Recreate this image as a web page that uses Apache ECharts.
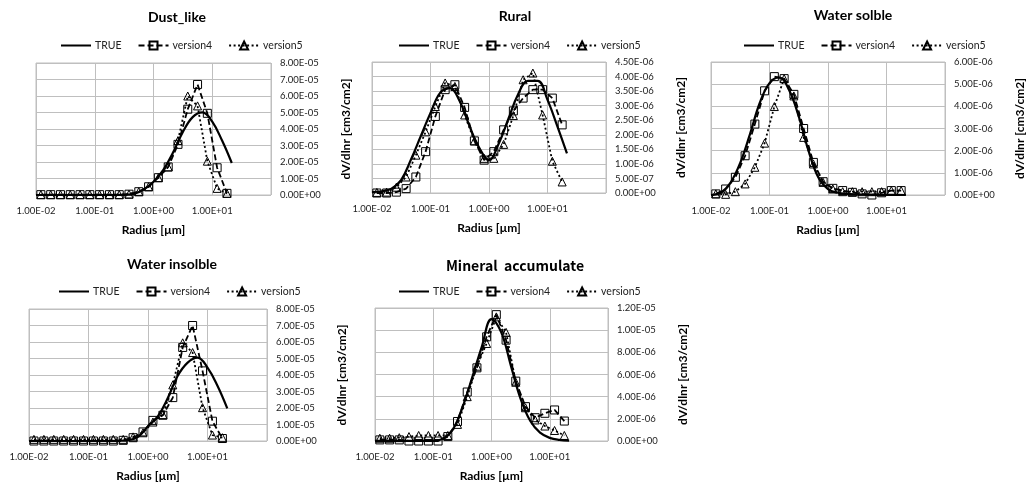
<!DOCTYPE html>
<html>
<head>
<meta charset="utf-8">
<title>dV/dlnr</title>
<script src="https://cdn.jsdelivr.net/npm/echarts@6/dist/echarts.min.js"></script>
<style>
html, body { margin: 0; padding: 0; background: #fff; }
#main { width: 1030px; height: 488px; }
</style>
</head>
<body>
<div id="main"></div>
<script>
// radius [um] : TRUE curve and retrieved bins
var rTrue = [0.01, 0.0147, 0.0215, 0.0316, 0.0464, 0.0681, 0.1, 0.147, 0.215, 0.316, 0.464,
    0.681, 1, 1.47, 2.15, 3.16, 4.64, 6.81, 10, 14.7, 21.5];
var rBin = [0.0121, 0.0178, 0.0261, 0.0383, 0.0562, 0.0825, 0.121, 0.178, 0.261, 0.383,
    0.562, 0.825, 1.21, 1.78, 2.61, 3.83, 5.62, 8.25, 12.1, 17.8];

// Dust_like  (x 1e-5)
var dustTrue = [0, 0, 0, 0, 0, 0, 0, 0, 0, 0.01, 0.07, 0.33, 0.8, 1.52, 2.57, 3.82, 4.72, 5.01, 4.45, 3.3, 1.94];
var dustV4 = [0.02, 0.02, 0.02, 0.02, 0.02, 0.02, 0.02, 0.02, 0.02, 0.05, 0.2, 0.5, 1.05, 1.7, 3.07, 5.2, 6.7, 4.95, 1.65, 0.1];
var dustV5 = [0.02, 0.02, 0.02, 0.02, 0.02, 0.02, 0.02, 0.02, 0.02, 0.05, 0.2, 0.5, 1.05, 1.7, 3.3, 6.0, 5.4, 2.05, 0.4, 0.1];

// Rural  (x 1e-6)
var ruralTrue = [0.03, 0.06, 0.15, 0.45, 1.15, 1.95, 2.75, 3.45, 3.6, 3.15, 2.3, 1.55, 1.13, 1.7, 2.55, 3.4, 3.85, 3.85, 3.2, 2.3, 1.36];
var ruralV4 = [0, 0, 0.03, 0.15, 0.55, 1.42, 2.63, 3.55, 3.72, 2.94, 1.79, 1.13, 1.42, 2.17, 2.82, 3.26, 3.55, 3.55, 3.26, 2.34];
var ruralV5 = [0.02, 0.03, 0.2, 0.55, 1.3, 2.1, 2.97, 3.78, 3.66, 2.68, 1.79, 1.19, 1.19, 1.67, 2.66, 3.89, 4.12, 2.68, 1.09, 0.38];

// Water solble  (x 1e-6)
var wsTrue = [0, 0.1, 0.55, 1.45, 2.75, 4.15, 5.05, 5.3, 4.75, 3.55, 2.0, 0.8, 0.27, 0.1, 0.05, 0.03, 0.02, 0.01, 0.01, 0.01, 0];
var wsV4 = [0.05, 0.27, 0.8, 1.77, 3.2, 4.7, 5.34, 5.25, 4.54, 3.0, 1.47, 0.6, 0.3, 0.2, 0.12, 0.05, 0, 0.1, 0.2, 0.2];
var wsV5 = [0.05, 0.03, 0.15, 0.5, 1.25, 2.34, 3.99, 5.25, 4.47, 2.6, 1.4, 0.57, 0.27, 0.15, 0.15, 0.15, 0.15, 0.15, 0.2, 0.2];

// Water insolble  (x 1e-5)
var wiTrue = [0, 0, 0, 0, 0, 0, 0, 0, 0, 0.01, 0.05, 0.25, 0.9, 1.5, 2.6, 3.95, 4.75, 5.05, 4.45, 3.35, 1.98];
var wiV4 = [0, 0, 0, 0, 0, 0, 0, 0, 0, 0.04, 0.2, 0.55, 1.25, 1.56, 2.63, 5.67, 7.0, 4.25, 1.2, 0.15];
var wiV5 = [0.1, 0.1, 0.1, 0.1, 0.1, 0.1, 0.1, 0.1, 0.1, 0.1, 0.25, 0.5, 1.15, 1.6, 3.4, 5.95, 5.36, 2.02, 0.36, 0.2];

// Mineral accumulate  (x 1e-6)
var maTrue = [0.02, 0.02, 0.02, 0.02, 0.02, 0.02, 0.02, 0.2, 1.0, 3.0, 5.7, 8.5, 11.0, 9.8, 6.8, 3.8, 1.8, 0.75, 0.28, 0.1, 0.04];
var maV4 = [0.1, 0.1, 0.1, 0, 0, 0, 0, 0.4, 1.76, 4.42, 6.6, 9.4, 11.4, 9.1, 5.4, 3.1, 2.1, 2.5, 2.8, 1.8];
var maV5 = [0.25, 0.25, 0.3, 0.4, 0.5, 0.5, 0.5, 0.5, 1.5, 4.0, 6.75, 8.8, 11.2, 9.8, 5.3, 3.0, 1.9, 1.35, 0.95, 0.5];

var seriesNames = ['TRUE', 'version4', 'version5'];
var xTicks = [0.01, 0.1, 1, 10];

// layout of the five small charts
var panels = [
    { title: 'Dust_like', unit: 1e-5, max: 8e-5, step: 1e-5, t: dustTrue, v4: dustV4, v5: dustV5,
      grid: [36, 63, 235, 132], titleX: 177, titleY: 10, legendX: 60, legendY: 40 },
    { title: 'Rural', unit: 1e-6, max: 4.5e-6, step: 0.5e-6, t: ruralTrue, v4: ruralV4, v5: ruralV5,
      grid: [372, 62, 234, 131], titleX: 515, titleY: 9, legendX: 398, legendY: 40 },
    { title: 'Water solble', unit: 1e-6, max: 6e-6, step: 1e-6, t: wsTrue, v4: wsV4, v5: wsV5,
      grid: [711, 62, 234, 133], titleX: 853, titleY: 8, legendX: 743, legendY: 40 },
    { title: 'Water insolble', unit: 1e-5, max: 8e-5, step: 1e-5, t: wiTrue, v4: wiV4, v5: wiV5,
      grid: [29, 309, 238, 132], titleX: 172, titleY: 257, legendX: 58, legendY: 286 },
    { title: 'Mineral  accumulate', unit: 1e-6, max: 1.2e-5, step: 2e-6, t: maTrue, v4: maV4, v5: maV5,
      grid: [375, 308, 233, 133], titleX: 515, titleY: 259, legendX: 398, legendY: 286, cjk: true }
];

function sci(v) {
    if (Math.abs(v) < 1e-15) return '0.00E+00';
    var parts = v.toExponential(2).split('e');
    var e = parseInt(parts[1], 10);
    var ae = Math.abs(e);
    return parts[0] + 'E' + (e < 0 ? '-' : '+') + (ae < 10 ? '0' + ae : ae);
}

function pairs(xs, ys, unit) {
    return xs.map(function (x, j) { return [x, ys[j] * unit]; });
}

var myChart = echarts.init(document.getElementById('main'));
var option = {
    animation: false,
    backgroundColor: '#fff',
    textStyle: { fontFamily: 'Lato, "Liberation Sans", sans-serif' },
    title: [],
    legend: [],
    grid: [],
    xAxis: [],
    yAxis: [],
    series: []
};

panels.forEach(function (p, i) {
    option.title.push({
        text: p.title,
        left: p.titleX,
        top: p.titleY,
        textAlign: 'center',
        padding: 0,
        textStyle: {
            fontSize: 14,
            fontWeight: 'bold',
            color: '#000',
            fontFamily: p.cjk ? '"Noto Sans CJK JP", sans-serif' : 'Lato, sans-serif'
        }
    });
    option.legend.push({
        // TRUE has no marker, only the line
        data: [{ name: seriesNames[0], itemStyle: { opacity: 0 } }, seriesNames[1], seriesNames[2]],
        left: p.legendX,
        top: p.legendY,
        padding: 0,
        itemWidth: 30,
        itemHeight: 10,
        itemGap: 16,
        selectedMode: false,
        textStyle: { fontSize: 10.5, color: '#222', padding: [0, 0, 0, -1] }
    });
    option.grid.push({
        left: p.grid[0],
        top: p.grid[1],
        width: p.grid[2],
        height: p.grid[3],
        show: true,
        borderColor: '#bfbfbf',
        borderWidth: 1
    });
    option.xAxis.push({
        type: 'log',
        logBase: 10,
        gridIndex: i,
        min: 0.01,
        max: 100,
        name: 'Radius [\u00b5m]',
        nameLocation: 'middle',
        nameGap: 29,
        nameTextStyle: { fontSize: 12, fontWeight: 'bold', color: '#000' },
        axisLine: { show: false },
        axisTick: { show: false },
        splitLine: { show: true, lineStyle: { color: '#bfbfbf', width: 1 } },
        axisLabel: {
            fontSize: 9.5,
            color: '#222',
            margin: 11,
            formatter: function (v) {
                return xTicks.indexOf(Math.round(v * 1000) / 1000) >= 0 ? sci(v) : '';
            }
        }
    });
    option.yAxis.push({
        type: 'value',
        gridIndex: i,
        position: 'right',
        min: 0,
        max: p.max,
        interval: p.step,
        name: 'dV/dlnr [cm3/cm2]',
        nameLocation: 'middle',
        nameGap: 69,
        nameTextStyle: { fontSize: 12, fontWeight: 'bold', color: '#000' },
        axisLine: { show: false },
        axisTick: { show: false },
        splitLine: { show: true, lineStyle: { color: '#bfbfbf', width: 1 } },
        axisLabel: { fontSize: 9.5, color: '#222', margin: 9, formatter: sci }
    });
    option.series.push({
        name: 'TRUE',
        type: 'line',
        xAxisIndex: i,
        yAxisIndex: i,
        data: pairs(rTrue, p.t, p.unit),
        smooth: 0.4,
        symbol: 'none',
        lineStyle: { color: '#000', width: 2.2 },
        itemStyle: { color: '#000' }
    }, {
        name: 'version4',
        type: 'line',
        xAxisIndex: i,
        yAxisIndex: i,
        data: pairs(rBin, p.v4, p.unit),
        symbol: 'rect',
        symbolSize: 8,
        lineStyle: { color: '#000', width: 1.8, type: [6, 3] },
        itemStyle: { color: 'rgba(255,255,255,0)', borderColor: '#000', borderWidth: 1 }
    }, {
        name: 'version5',
        type: 'line',
        xAxisIndex: i,
        yAxisIndex: i,
        data: pairs(rBin, p.v5, p.unit),
        symbol: 'triangle',
        symbolSize: 8,
        lineStyle: { color: '#000', width: 1.8, type: [2, 2.5] },
        itemStyle: { color: 'rgba(255,255,255,0)', borderColor: '#000', borderWidth: 1 }
    });
});

myChart.setOption(option);
window.addEventListener('resize', function () {
    myChart.resize();
});
</script>
</body>
</html>
